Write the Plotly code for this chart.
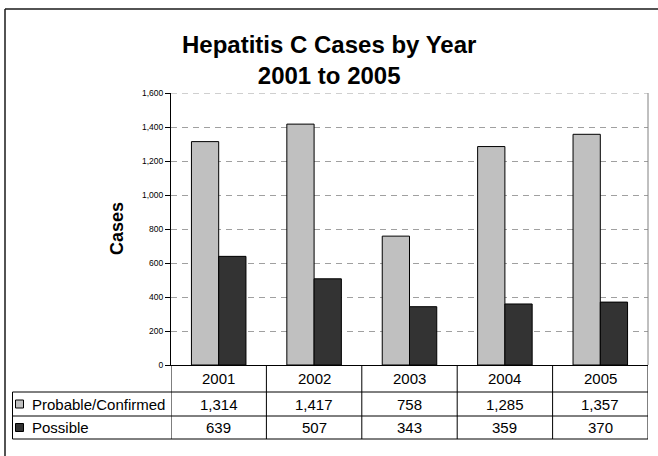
import plotly.graph_objects as go

# ---- data ----
years = ["2001", "2002", "2003", "2004", "2005"]
series_names = ["Probable/Confirmed", "Possible"]
probable_confirmed = [1314, 1417, 758, 1285, 1357]
possible = [639, 507, 343, 359, 370]
y_ticks = [0, 200, 400, 600, 800, 1000, 1200, 1400, 1600]

series_values = [probable_confirmed, possible]
series_colors = ["#C0C0C0", "#333333"]

# ---- layout geometry (pixels) ----
W, H = 658, 456
L, R, T, B = 171, 10, 93, 91
PW, PH = W - L - R, H - T - B
FONT = "Liberation Sans, Arial, sans-serif"


def px(x):
    return (x - L) / PW


def py(y):
    return (H - B - y) / PH


fig = go.Figure()
for name, vals, col in zip(series_names, series_values, series_colors):
    fig.add_trace(go.Bar(
        x=years, y=vals, name=name,
        marker=dict(color=col, line=dict(color="#000000", width=1)),
        showlegend=False, hoverinfo="x+y+name",
    ))

shapes = []
annotations = []

# title
annotations.append(dict(
    text="<b>Hepatitis C Cases by Year<br>2001 to 2005</b>",
    xref="paper", yref="paper", x=px(329), y=py(60),
    xanchor="center", yanchor="middle", showarrow=False,
    font=dict(family=FONT, size=24, color="#000000"),
))
# y-axis title
annotations.append(dict(
    text="<b>Cases</b>", textangle=-90,
    xref="paper", yref="paper", x=px(117), y=py(229),
    xanchor="center", yanchor="middle", showarrow=False,
    font=dict(family=FONT, size=18, color="#000000"),
))

# outer border (top and left edges visible)
shapes.append(dict(type="line", xref="paper", yref="paper",
                   x0=px(5), x1=px(W + 5), y0=py(9), y1=py(9),
                   line=dict(color="#1a1a1a", width=1.5)))
shapes.append(dict(type="line", xref="paper", yref="paper",
                   x0=px(5), x1=px(5), y0=py(9), y1=py(H + 5),
                   line=dict(color="#1a1a1a", width=1.5)))

# plot area right border and top dashed gridline
shapes.append(dict(type="line", xref="paper", yref="paper",
                   x0=1, x1=1, y0=0, y1=1,
                   line=dict(color="#808080", width=1)))
shapes.append(dict(type="line", xref="paper", yref="y",
                   x0=0, x1=1, y0=y_ticks[-1], y1=y_ticks[-1],
                   line=dict(color="#A0A0A0", width=1, dash="6px,5px")))

# data table
row_y = [365, 392, 416, 439]
label_left = 12.5
line_style = dict(color="#000000", width=1)
n = len(years)
for k in range(n + 1):
    shapes.append(dict(type="line", xref="x", yref="paper",
                       x0=k - 0.5, x1=k - 0.5, y0=py(row_y[0]), y1=py(row_y[-1]),
                       line=line_style))
for yy in row_y[1:]:
    shapes.append(dict(type="line", xref="paper", yref="paper",
                       x0=px(label_left), x1=1, y0=py(yy), y1=py(yy),
                       line=line_style))
shapes.append(dict(type="line", xref="paper", yref="paper",
                   x0=px(label_left), x1=px(label_left), y0=py(row_y[1]), y1=py(row_y[-1]),
                   line=line_style))

cell_font = dict(family=FONT, size=15, color="#000000")
# header row
for i, yr in enumerate(years):
    annotations.append(dict(text=yr, xref="x", yref="paper", x=i,
                            y=py((row_y[0] + row_y[1]) / 2),
                            xanchor="center", yanchor="middle",
                            showarrow=False, font=cell_font))
# series rows
for r, (name, vals, col) in enumerate(zip(series_names, series_values, series_colors)):
    yc = (row_y[r + 1] + row_y[r + 2]) / 2
    annotations.append(dict(text=name, xref="paper", yref="paper",
                            x=px(30), y=py(yc), xanchor="left", yanchor="middle",
                            showarrow=False, font=cell_font))
    shapes.append(dict(type="rect", xref="paper", yref="paper",
                       x0=px(15.5), x1=px(23.5), y0=py(yc - 4), y1=py(yc + 4),
                       fillcolor=col, line=dict(color="#000000", width=1)))
    for i, v in enumerate(vals):
        annotations.append(dict(text=f"{v:,}", xref="x", yref="paper", x=i,
                                y=py(yc), xanchor="center", yanchor="middle",
                                showarrow=False, font=cell_font))

fig.update_layout(
    width=W, height=H,
    margin=dict(l=L, r=R, t=T, b=B, pad=0),
    paper_bgcolor="#FFFFFF", plot_bgcolor="#FFFFFF",
    barmode="group", bargap=1.5 / 3.5, bargroupgap=0,
    shapes=shapes, annotations=annotations,
    xaxis=dict(type="category", range=[-0.5, n - 0.5], showticklabels=False,
               showgrid=False, zeroline=False, showline=True,
               linecolor="#000000", linewidth=1, ticks="", fixedrange=True),
    yaxis=dict(range=[0, 1600], tickvals=y_ticks, tickformat=",",
               showgrid=True, gridcolor="#A0A0A0", gridwidth=1, griddash="6px,5px",
               zeroline=False, showline=True, linecolor="#000000", linewidth=1,
               ticks="outside", ticklen=5, tickcolor="#000000", tickwidth=1,
               tickfont=dict(family=FONT, size=8.5, color="#000000"),
               fixedrange=True),
    font=dict(family=FONT),
)

fig.write_html("out.html")
